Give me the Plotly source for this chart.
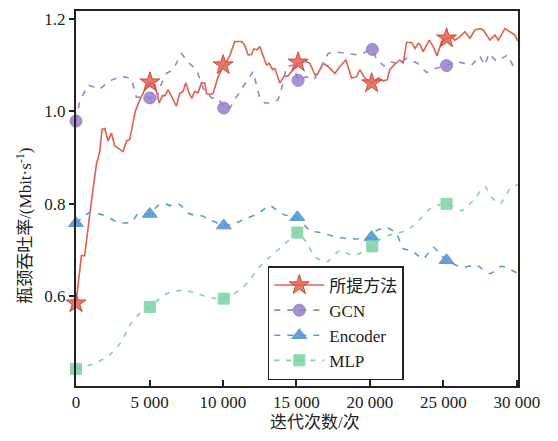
import plotly.graph_objects as go

# ---------------- data ----------------
red_x = [0, 370, 590, 820, 1050, 1390, 1620, 1770, 1960, 2180, 2410, 2640, 3200, 3440, 3660, 4030, 4340, 4680,
         5030, 5370, 5660, 5890, 6050, 6270, 6830, 7060, 7280, 7470, 7740, 7880, 8080, 8300, 8540, 8760, 8880,
         9100, 9330, 9670, 10010, 10460, 10800, 11260, 11480, 11710, 11940, 12100, 12320, 12500, 12730, 12960,
         13140, 13370, 13530, 13870, 14140, 14430, 14770, 15110, 15570, 15910, 16250, 16470, 16810, 17150, 17610,
         17950, 18360, 18750, 19090, 19310, 19650, 20110, 20560, 20900, 21170, 21350, 21690, 22030, 22260, 22490,
         22830, 23060, 23280, 23400, 23620, 24030, 24300, 24570, 24870, 25210, 25550, 25780, 26120, 26460, 26800,
         27140, 27480, 27700, 27940, 28160, 28500, 28730, 29180, 29520, 29860, 30060]
red_y = [0.585, 0.688, 0.688, 0.749, 0.806, 0.885, 0.914, 0.961, 0.963, 0.936, 0.953, 0.925, 0.913, 0.936, 0.939,
         1.0, 1.025, 1.047, 1.063, 1.057, 1.018, 1.034, 1.034, 1.047, 1.011, 1.039, 1.043, 1.062, 1.035, 1.029,
         1.043, 1.040, 1.062, 1.061, 1.039, 1.036, 1.039, 1.075, 1.097, 1.12, 1.151, 1.151, 1.143, 1.122, 1.123,
         1.135, 1.133, 1.14, 1.118, 1.1, 1.104, 1.09, 1.093, 1.061, 1.075, 1.077, 1.09, 1.104, 1.109, 1.104, 1.079,
         1.082, 1.104, 1.097, 1.082, 1.097, 1.111, 1.072, 1.075, 1.09, 1.072, 1.061, 1.072, 1.066, 1.068, 1.09,
         1.102, 1.111, 1.104, 1.149, 1.149, 1.136, 1.147, 1.145, 1.129, 1.154, 1.14, 1.12, 1.151, 1.158, 1.161,
         1.154, 1.161, 1.172, 1.158, 1.176, 1.179, 1.176, 1.165, 1.154, 1.165, 1.154, 1.179, 1.172, 1.165, 1.152]
red_mx = [0, 5030, 10010, 15110, 20110, 25210]
red_my = [0.585, 1.063, 1.1, 1.106, 1.061, 1.158]

gcn_x = [0, 250, 820, 1610, 2290, 3090, 3770, 3860, 4110, 4680, 5020, 5470, 5700, 6150, 6600, 7180, 7620, 8200,
         8650, 9220, 9670, 10050, 10460, 10870, 11260, 11710, 12050, 12280, 12500, 12850, 13300, 13750, 14050,
         14320, 14770, 15110, 15680, 16130, 16590, 16810, 17150, 17730, 18410, 19200, 20160, 20450, 20950, 21350,
         21970, 22490, 23230, 23850, 24490, 25210, 25850, 26340, 26920, 27450, 27820, 28090, 28620, 29370, 29710,
         30060]
gcn_y = [0.979, 1.022, 1.057, 1.048, 1.066, 1.076, 1.071, 1.06, 1.03, 1.032, 1.029, 1.022, 1.052, 1.082, 1.09,
         1.125, 1.106, 1.09, 1.05, 1.029, 1.029, 1.007, 1.007, 1.029, 1.047, 1.068, 1.086, 1.057, 1.029, 1.018,
         1.018, 1.025, 1.057, 1.097, 1.1, 1.067, 1.075, 1.067, 1.088, 1.104, 1.125, 1.128, 1.125, 1.122, 1.134,
         1.113, 1.098, 1.108, 1.102, 1.115, 1.104, 1.084, 1.093, 1.099, 1.108, 1.104, 1.1, 1.12, 1.1, 1.125, 1.108,
         1.122, 1.1, 1.11]
gcn_mx = [0, 5020, 10050, 15110, 20160, 25210]
gcn_my = [0.979, 1.029, 1.007, 1.067, 1.134, 1.099]

enc_x = [0, 930, 1840, 2860, 3770, 4220, 5020, 5580, 6040, 6380, 6600, 7060, 7740, 8540, 9220, 10050, 10800,
         11480, 12390, 13190, 13750, 14210, 15060, 15570, 15910, 16590, 17390, 18180, 18970, 20110, 20450, 21130,
         21810, 22260, 22830, 23620, 24300, 24870, 25210, 26230, 27260, 28160, 28960, 30060]
enc_y = [0.758, 0.781, 0.776, 0.76, 0.76, 0.778, 0.778, 0.796, 0.801, 0.796, 0.8, 0.798, 0.778, 0.774, 0.764,
         0.753, 0.758, 0.767, 0.779, 0.796, 0.784, 0.776, 0.771, 0.753, 0.742, 0.738, 0.731, 0.726, 0.724, 0.728,
         0.742, 0.749, 0.735, 0.703, 0.699, 0.681, 0.706, 0.688, 0.678, 0.663, 0.667, 0.649, 0.665, 0.649]
enc_mx = [0, 5020, 10050, 15060, 20110, 25210]
enc_my = [0.758, 0.778, 0.753, 0.771, 0.728, 0.678]

mlp_x = [0, 1270, 2290, 3090, 3660, 4340, 5020, 5580, 6380, 7400, 8200, 8880, 9560, 10050, 10800, 11710, 12390,
         13190, 14210, 15060, 15680, 16250, 17050, 17950, 18860, 20150, 20670, 21580, 22490, 23400, 24190, 25210,
         26230, 27020, 27820, 28280, 28840, 29520, 30060]
mlp_y = [0.443, 0.455, 0.473, 0.502, 0.538, 0.563, 0.577, 0.592, 0.609, 0.613, 0.606, 0.599, 0.595, 0.595, 0.606,
         0.631, 0.66, 0.685, 0.713, 0.738, 0.717, 0.685, 0.674, 0.699, 0.688, 0.708, 0.724, 0.735, 0.742, 0.767,
         0.792, 0.8, 0.785, 0.807, 0.837, 0.814, 0.8, 0.832, 0.842]
mlp_mx = [0, 5020, 10050, 15060, 20150, 25210]
mlp_my = [0.443, 0.577, 0.595, 0.738, 0.708, 0.8]

names = ["所提方法", "GCN", "Encoder", "MLP"]
x_tickvals = [0, 5000, 10000, 15000, 20000, 25000, 30000]
x_ticktext = ["0", "5 000", "10 000", "15 000", "20 000", "25 000", "30 000"]
y_tickvals = [0.6, 0.8, 1.0, 1.2]

# ---------------- styles ----------------
FONT = "Liberation Serif, Times New Roman, Noto Sans CJK SC, serif"
series = [
    (red_x, red_y, red_mx, red_my, names[0], "#E0604C", "solid", "star", 15, "linear",
     "rgba(226,98,84,0.85)", "#D24A38"),
    (gcn_x, gcn_y, gcn_mx, gcn_my, names[1], "#9A83C8", "6px,7px", "circle", 12, "linear",
     "rgba(150,125,200,0.85)", "#9A83C8"),
    (enc_x, enc_y, enc_mx, enc_my, names[2], "#5B9AD6", "6px,7px", "triangle-up", 13, "spline",
     "rgba(88,150,214,0.9)", "#5B9AD6"),
    (mlp_x, mlp_y, mlp_mx, mlp_my, names[3], "#7FD1A8", "5px,7px", "square", 11, "spline",
     "rgba(125,208,165,0.85)", "#8AD8B0"),
]

fig = go.Figure()
for (xs, ys, mx, my, nm, col, dash, sym, ms, shape, mfill, mline) in series:
    fig.add_trace(go.Scatter(x=xs, y=ys, mode="lines", showlegend=False,
                             line=dict(color=col, width=1.6, dash=dash, shape=shape, smoothing=0.6)))
    fig.add_trace(go.Scatter(x=mx, y=my, mode="markers", showlegend=False, cliponaxis=False,
                             marker=dict(symbol=sym, size=ms, color=mfill, line=dict(color=mline, width=1))))
    fig.add_trace(go.Scatter(x=[None], y=[None], mode="lines+markers", name=nm,
                             line=dict(color=col, width=1.6, dash=dash),
                             marker=dict(symbol=sym, size=ms, color=mfill, line=dict(color=mline, width=1))))

fig.update_layout(
    width=558, height=441,
    margin=dict(l=76, r=40, t=9, b=55),
    paper_bgcolor="white", plot_bgcolor="white",
    font=dict(family=FONT, size=17, color="#222"),
    showlegend=True,
    legend=dict(x=0.434, y=0.32, xanchor="left", yanchor="top",
                bgcolor="white", bordercolor="#222", borderwidth=1.5,
                font=dict(family=FONT, size=17, color="#222"),
                tracegroupgap=0, itemwidth=50),
    xaxis=dict(range=[0, 30070], tickvals=x_tickvals, ticktext=x_ticktext,
               ticks="inside", ticklen=6, tickwidth=2, tickcolor="#222",
               showline=True, linecolor="#222", linewidth=2, mirror=True,
               showgrid=False, zeroline=False, tickfont=dict(size=17)),
    yaxis=dict(range=[0.406, 1.217], tickvals=y_tickvals, tickformat=".1f",
               ticks="outside", ticklen=5, tickwidth=2, tickcolor="#222",
               showline=True, linecolor="#222", linewidth=2, mirror=True,
               showgrid=False, zeroline=False, tickfont=dict(size=17)),
    annotations=[
        dict(text="瓶颈吞吐率/(Mbit·s<sup>-1</sup>)", xref="paper", yref="paper",
             x=(24 - 76) / 442, y=(386 - 225) / 377, textangle=-90, showarrow=False,
             xanchor="center", yanchor="middle", font=dict(family=FONT, size=17, color="#222")),
        dict(text="迭代次数/次", xref="paper", yref="paper",
             x=(315 - 76) / 442, y=-(423 - 386) / 377, showarrow=False,
             xanchor="center", yanchor="middle", font=dict(family=FONT, size=17, color="#222")),
    ],
)

fig.write_html("out.html")
